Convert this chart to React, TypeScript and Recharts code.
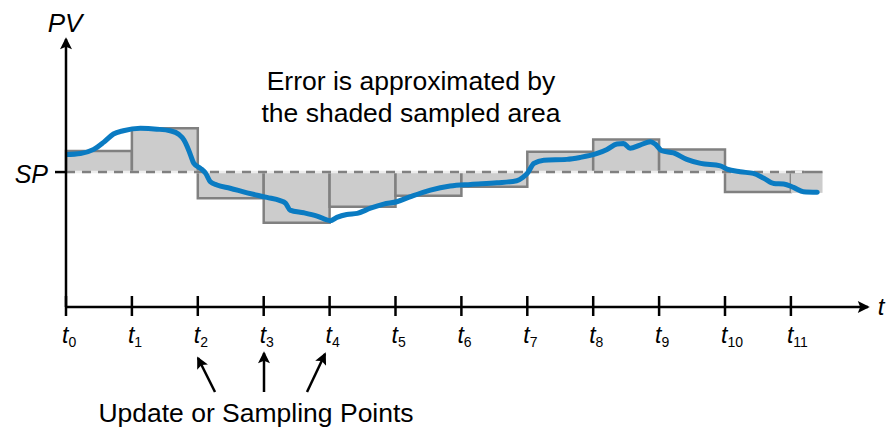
import { ComposedChart, Line, XAxis, YAxis, ReferenceArea, ReferenceLine } from "recharts";

const W = 889;
const H = 430;
const FONT = "'Liberation Sans', Arial, sans-serif";
const BLUE = "#0a7bc2";
const GRAY = "#808080";
const FILL = "#cccccc";

// set point and sampling instants
const SP = 50;
const TICK_T = [0, 1, 2, 3, 4, 5, 6, 7, 8, 9, 10, 11];

// sampled boxes: held value between two update points
const BOX_FROM = [0, 1, 2, 3, 4, 5, 6, 7, 8, 9, 10, 11];
const BOX_TO = [1, 2, 3, 4, 5, 6, 7, 8, 9, 10, 11, 11.48];
const BOX_PV = [57.8, 66.2, 40.3, 31.2, 37.1, 41.2, 44.6, 57.5, 62.1, 58.4, 42.6, 42.3];

// process variable trace
const CURVE_T = [
  0, 0.22, 0.42, 0.57, 0.72, 0.87, 1.13, 1.38, 1.58, 1.71, 1.79, 1.84, 1.89, 1.94, 2.04, 2.12, 2.19, 2.29,
  2.49, 2.75, 3.05, 3.25, 3.33, 3.4, 3.61, 3.81, 4.01, 4.11, 4.26, 4.42, 4.62, 4.82, 5.02, 5.23, 5.53, 5.83,
  6.14, 6.54, 6.84, 6.93, 7.0, 7.1, 7.25, 7.6, 7.8, 8.06, 8.21, 8.36, 8.46, 8.56, 8.71, 8.87, 8.94, 9.04,
  9.22, 9.42, 9.63, 9.93, 10.03, 10.23, 10.43, 10.59, 10.74, 10.89, 11.04, 11.19, 11.4,
];
const CURVE_PV = [
  56.5, 56.9, 58.4, 61.0, 64.1, 65.3, 66.2, 65.9, 65.3, 64.0, 61.9, 59.4, 56.3, 53.2, 51.4, 49.5, 46.4, 45.2,
  44.0, 42.3, 40.6, 39.4, 38.5, 35.9, 34.9, 33.7, 32.0, 33.2, 34.3, 34.7, 36.6, 38.1, 39.0, 40.9, 43.3, 44.8,
  45.4, 46.0, 46.8, 48.0, 49.5, 53.2, 54.4, 54.7, 55.4, 56.9, 58.4, 60.4, 60.6, 58.8, 60.0, 61.2, 60.4, 57.9,
  57.1, 54.7, 53.2, 52.3, 51.1, 50.1, 49.5, 47.7, 45.8, 45.6, 44.3, 42.7, 42.5,
];

function errBox(above: boolean, last: boolean) {
  return (p: any) => {
    const { x, y, width: w, height: h } = p;
    let d;
    if (last) d = above ? `M${x},${y + h}H${x + w}` : `M${x},${y}H${x + w}`;
    else if (above) d = `M${x},${y + h}V${y}H${x + w}V${y + h}`;
    else d = `M${x},${y}V${y + h}H${x + w}V${y}`;
    return (
      <g>
        <rect x={x} y={y} width={w} height={h} fill={FILL} />
        <path d={d} fill="none" stroke={GRAY} strokeWidth={2.5} />
      </g>
    );
  };
}

function TimeTick(props: any) {
  const { x, y, payload } = props;
  return (
    <g>
      <line x1={x} x2={x} y1={y - 11} y2={y + 9} stroke="#000" strokeWidth={2.5} />
      <text x={x - 4} y={y + 36} fontFamily={FONT} fontSize={23} fill="#000">
        <tspan fontStyle="italic">t</tspan>
        <tspan fontSize={14} dy={3.5}>{payload.value}</tspan>
      </text>
    </g>
  );
}

function SpTick(props: any) {
  const { x, y } = props;
  return (
    <g>
      <line x1={x - 11} x2={x} y1={y} y2={y} stroke="#000" strokeWidth={2.5} />
      <text x={x - 18} y={y + 10.5} textAnchor="end" fontFamily={FONT} fontSize={25} fontStyle="italic" fill="#000">
        SP
      </text>
    </g>
  );
}

export default function App() {
  const data = CURVE_T.map((t, i) => ({ t, pv: CURVE_PV[i] }));
  const arrows = [
    [215, 392, 198, 358],
    [264, 392, 264, 353],
    [307, 392, 325, 354],
  ];

  return (
    <div style={{ position: "absolute", left: 0, top: 0, width: W, height: H, fontFamily: FONT }}>
      <svg width={0} height={0} style={{ position: "absolute" }}>
        <defs>
          <marker id="head" viewBox="0 0 10 10" refX={8.5} refY={5} markerUnits="userSpaceOnUse" markerWidth={13} markerHeight={12} orient="auto-start-reverse">
            <path d="M0,0 L10,5 L0,10 L2,5 Z" fill="#000" />
          </marker>
        </defs>
      </svg>
      <ComposedChart width={W} height={H} data={data} margin={{ top: 39, right: 21, bottom: 0, left: 0 }}>
        <XAxis
          dataKey="t"
          type="number"
          domain={[0, 12.17]}
          ticks={TICK_T}
          interval={0}
          allowDataOverflow
          height={123}
          tickSize={0}
          tickMargin={0}
          tickLine={false}
          axisLine={{ stroke: "#000", strokeWidth: 2.5, markerEnd: "url(#head)" }}
          tick={(p: any) => <TimeTick {...p} />}
        />
        <YAxis
          type="number"
          domain={[0, 99.3]}
          ticks={[SP]}
          allowDataOverflow
          width={66}
          tickSize={0}
          tickMargin={0}
          tickLine={false}
          axisLine={{ stroke: "#000", strokeWidth: 2.5, markerStart: "url(#head)" }}
          tick={(p: any) => <SpTick {...p} />}
        />
        {BOX_PV.map((v, i) => (
          <ReferenceArea
            key={i}
            x1={BOX_FROM[i]}
            x2={BOX_TO[i]}
            y1={SP}
            y2={v}
            ifOverflow="visible"
            shape={errBox(v > SP, i === BOX_PV.length - 1)}
          />
        ))}
        <ReferenceLine segment={[{ x: 0, y: SP }, { x: 11.2, y: SP }]} stroke="#eeeeee" strokeWidth={2.5} ifOverflow="visible" />
        <ReferenceLine segment={[{ x: 0, y: SP }, { x: 11.2, y: SP }]} stroke={GRAY} strokeWidth={2.5} strokeDasharray="9 7" ifOverflow="visible" />
        <Line dataKey="pv" type="monotone" stroke={BLUE} strokeWidth={5} strokeLinecap="round" strokeLinejoin="round" dot={false} isAnimationActive={false} />
      </ComposedChart>
      <svg width={W} height={H} style={{ position: "absolute", left: 0, top: 0, pointerEvents: "none" }}>
        <g fontFamily={FONT} fill="#000">
          <text x={65} y={32} textAnchor="middle" fontSize={26} fontStyle="italic">PV</text>
          <text x={881} y={315} textAnchor="middle" fontSize={24} fontStyle="italic">t</text>
          <text x={411} y={90} textAnchor="middle" fontSize={26.5}>Error is approximated by</text>
          <text x={411} y={122} textAnchor="middle" fontSize={26.5}>the shaded sampled area</text>
          <text x={256} y={422} textAnchor="middle" fontSize={26.5}>Update or Sampling Points</text>
        </g>
        {arrows.map(([x1, y1, x2, y2], i) => (
          <line key={i} x1={x1} y1={y1} x2={x2} y2={y2} stroke="#000" strokeWidth={2.5} markerEnd="url(#head)" />
        ))}
      </svg>
    </div>
  );
}
